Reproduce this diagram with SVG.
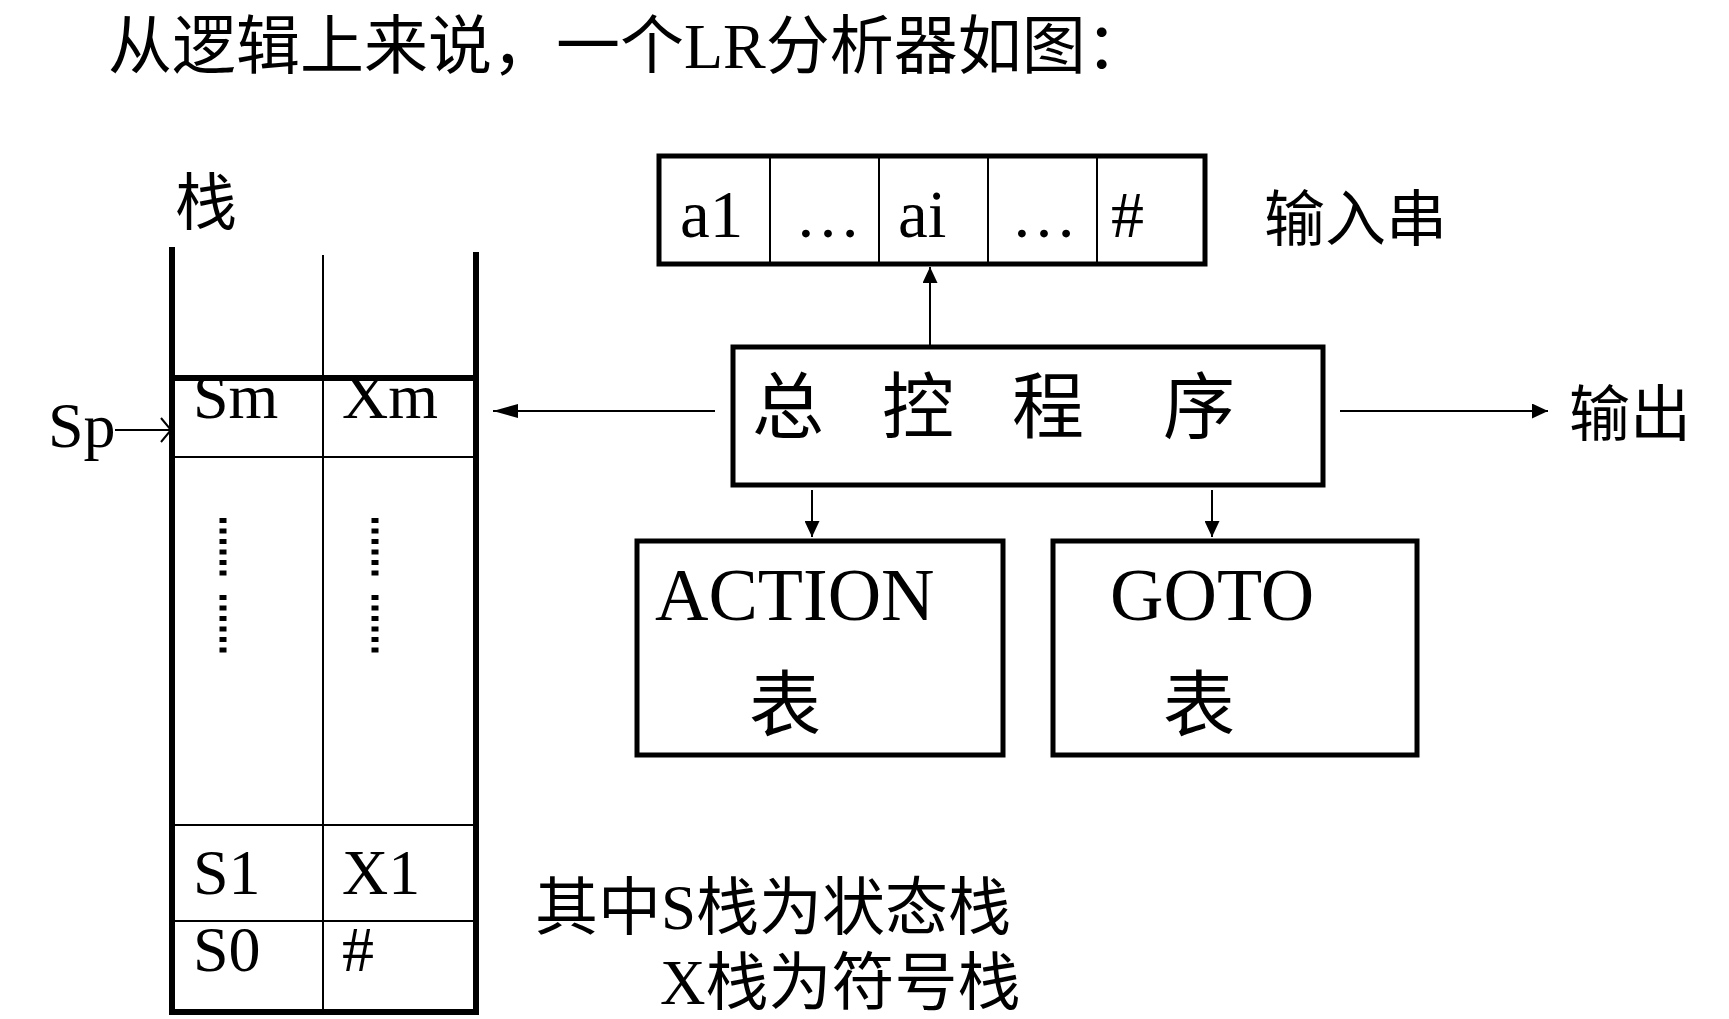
<svg xmlns="http://www.w3.org/2000/svg" width="1729" height="1019" viewBox="0 0 1729 1019">
<style>
  .lat { font-family: "Liberation Serif", "Times New Roman", serif; fill: #000; }
  .cjk { font-family: "Liberation Serif", "Noto Sans CJK SC", sans-serif; fill: #000; }
  .box { fill: #fff; stroke: #000; stroke-width: 5; }
  .thin { stroke: #000; stroke-width: 2; fill: none; }
  .thick { stroke: #000; stroke-width: 6; fill: none; }
  .conn { stroke: #000; stroke-width: 2; fill: none; }
  .dots { stroke: #000; stroke-width: 7; fill: none; stroke-dasharray: 5 5.5; }
</style>
<defs>
  <marker id="ah" markerUnits="userSpaceOnUse" markerWidth="16" markerHeight="15" refX="16" refY="7.5" orient="auto">
    <path d="M0,0 L16,7.5 L0,15 Z" fill="#000"/>
  </marker>
  <marker id="ahLong" markerUnits="userSpaceOnUse" markerWidth="25" markerHeight="14" refX="25" refY="7" orient="auto">
    <path d="M0,0 L25,7 L0,14 Z" fill="#000"/>
  </marker>
</defs>
<rect width="1729" height="1019" fill="#fff"/>

<g id="title">
  <text class="cjk" x="108" y="68" font-size="64">从逻辑上来说，一个LR分析器如图：</text>
</g>

<g id="stack">
  <text class="cjk" x="175" y="225" font-size="62">栈</text>
  <line class="thick" x1="172" y1="247" x2="172" y2="1012"/>
  <line class="thick" x1="476" y1="252" x2="476" y2="1012"/>
  <line class="thin" x1="323" y1="255" x2="323" y2="1012"/>
  <line class="thick" x1="172" y1="378" x2="476" y2="378" stroke-width="5"/>
  <line class="thin" x1="172" y1="457" x2="476" y2="457"/>
  <line class="thin" x1="172" y1="825" x2="476" y2="825"/>
  <line class="thin" x1="172" y1="921" x2="476" y2="921"/>
  <line class="thick" x1="169" y1="1012" x2="479" y2="1012" stroke-width="5"/>
  <line class="dots" x1="223" y1="518" x2="223" y2="577"/>
  <line class="dots" x1="223" y1="595" x2="223" y2="654"/>
  <line class="dots" x1="375" y1="518" x2="375" y2="577"/>
  <line class="dots" x1="375" y1="595" x2="375" y2="654"/>
  <text class="lat" x="193" y="418" font-size="64">Sm</text>
  <text class="lat" x="342" y="418" font-size="64">Xm</text>
  <text class="lat" x="193" y="894" font-size="64">S1</text>
  <text class="lat" x="342" y="894" font-size="64">X1</text>
  <text class="lat" x="193" y="971" font-size="64">S0</text>
  <text class="lat" x="342" y="971" font-size="64">#</text>
</g>

<g id="sp">
  <text class="lat" x="48" y="447" font-size="64">Sp</text>
  <path class="conn" d="M115,430 L171,430 M161,418 L171,430 L161,442" stroke-width="2.5"/>
</g>

<g id="input">
  <rect class="box" x="659" y="156" width="546" height="108"/>
  <line class="thin" x1="770" y1="156" x2="770" y2="264"/>
  <line class="thin" x1="879" y1="156" x2="879" y2="264"/>
  <line class="thin" x1="988" y1="156" x2="988" y2="264"/>
  <line class="thin" x1="1097" y1="156" x2="1097" y2="264"/>
  <text class="lat" x="680" y="237" font-size="67">a1</text>
  <text class="lat" x="795" y="237" font-size="66">…</text>
  <text class="lat" x="898" y="237" font-size="67">ai</text>
  <text class="lat" x="1011" y="237" font-size="66">…</text>
  <text class="lat" x="1111" y="237" font-size="66">#</text>
  <text class="cjk" x="1264" y="241" font-size="61">输入串</text>
</g>

<g id="control">
  <rect class="box" x="733" y="347" width="590" height="138"/>
  <text class="cjk" y="432" font-size="72"><tspan x="752">总</tspan><tspan x="882">控</tspan><tspan x="1012">程</tspan><tspan x="1163">序</tspan></text>
</g>

<g id="output">
  <text class="cjk" x="1569" y="436" font-size="61">输出</text>
</g>

<g id="action">
  <rect class="box" x="637" y="541" width="366" height="214" stroke-width="6"/>
  <text class="lat" x="655" y="620" font-size="74">ACTION</text>
  <text class="cjk" x="749" y="730" font-size="72">表</text>
</g>

<g id="goto">
  <rect class="box" x="1053" y="541" width="364" height="214" stroke-width="6"/>
  <text class="lat" x="1110" y="620" font-size="74">GOTO</text>
  <text class="cjk" x="1163" y="730" font-size="72">表</text>
</g>

<g id="note">
  <text class="cjk" x="535" y="929" font-size="63">其中S栈为状态栈</text>
  <text class="cjk" x="660" y="1004" font-size="63">X栈为符号栈</text>
</g>

<g id="connectors">
  <line class="conn" x1="930" y1="345" x2="930" y2="267" marker-end="url(#ah)"/>
  <line class="conn" x1="715" y1="411" x2="493" y2="411" marker-end="url(#ahLong)"/>
  <line class="conn" x1="1340" y1="411" x2="1548" y2="411" marker-end="url(#ah)"/>
  <line class="conn" x1="812" y1="490" x2="812" y2="537" marker-end="url(#ah)"/>
  <line class="conn" x1="1212" y1="490" x2="1212" y2="537" marker-end="url(#ah)"/>
</g>
</svg>
